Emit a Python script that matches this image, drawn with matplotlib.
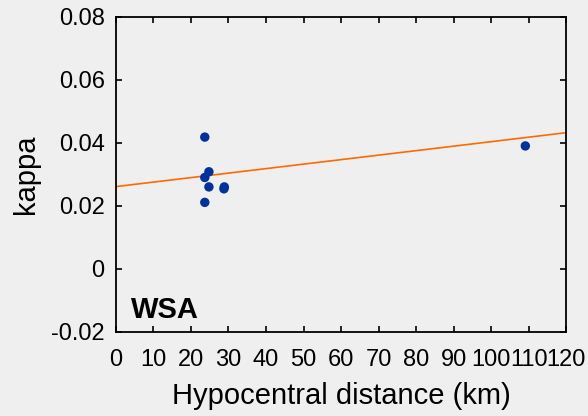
import numpy as np
import matplotlib
matplotlib.use('Agg')
import matplotlib.pyplot as plt

# hypocentral distance (km) and kappa for the WSA events
distance = [23.7, 24.8, 23.7, 24.8, 28.8, 28.9, 23.7, 109.1]
kappa = [0.0418, 0.0308, 0.029, 0.026, 0.0254, 0.026, 0.0211, 0.039]

# linear trend (intercept, slope)
trend_intercept = 0.0261
trend_slope = 0.0001425
trend_x = [0, 120]

xticks = list(range(0, 121, 10))
yticks = [-0.02, 0, 0.02, 0.04, 0.06, 0.08]
ytick_labels = ['-0.02', '0', '0.02', '0.04', '0.06', '0.08']

plt.rcParams['font.family'] = ['Liberation Sans', 'DejaVu Sans']

fig = plt.figure(figsize=(5.88, 4.16), dpi=100, facecolor='#efefef')
ax = fig.add_axes([0.197, 0.202, 0.766, 0.758])
ax.set_facecolor('none')

tx = np.array(trend_x)
ax.plot(tx, trend_intercept + trend_slope * tx, color='#ff6a00', lw=1.2, zorder=2)
ax.scatter(distance, kappa, s=46, color='#003399', edgecolors='none', zorder=3)

ax.set_xlim(0, 120)
ax.set_ylim(-0.02, 0.08)
ax.set_xticks(xticks)
ax.set_yticks(yticks)
ax.set_yticklabels(ytick_labels)
ax.tick_params(direction='in', top=True, right=True, length=4, width=1.2,
               labelsize=17, colors='black')
ax.tick_params(axis='x', pad=12)
ax.tick_params(axis='y', pad=8)
for sp in ax.spines.values():
    sp.set_linewidth(1.3)

ax.set_xlabel('Hypocentral distance (km)', fontsize=21, labelpad=8)
ax.set_ylabel('kappa', fontsize=21, labelpad=8)
ax.text(0.033, 0.045, 'WSA', transform=ax.transAxes, fontsize=21,
        fontweight='bold', ha='left', va='baseline')

fig.savefig('out.png', dpi=100, facecolor=fig.get_facecolor())
